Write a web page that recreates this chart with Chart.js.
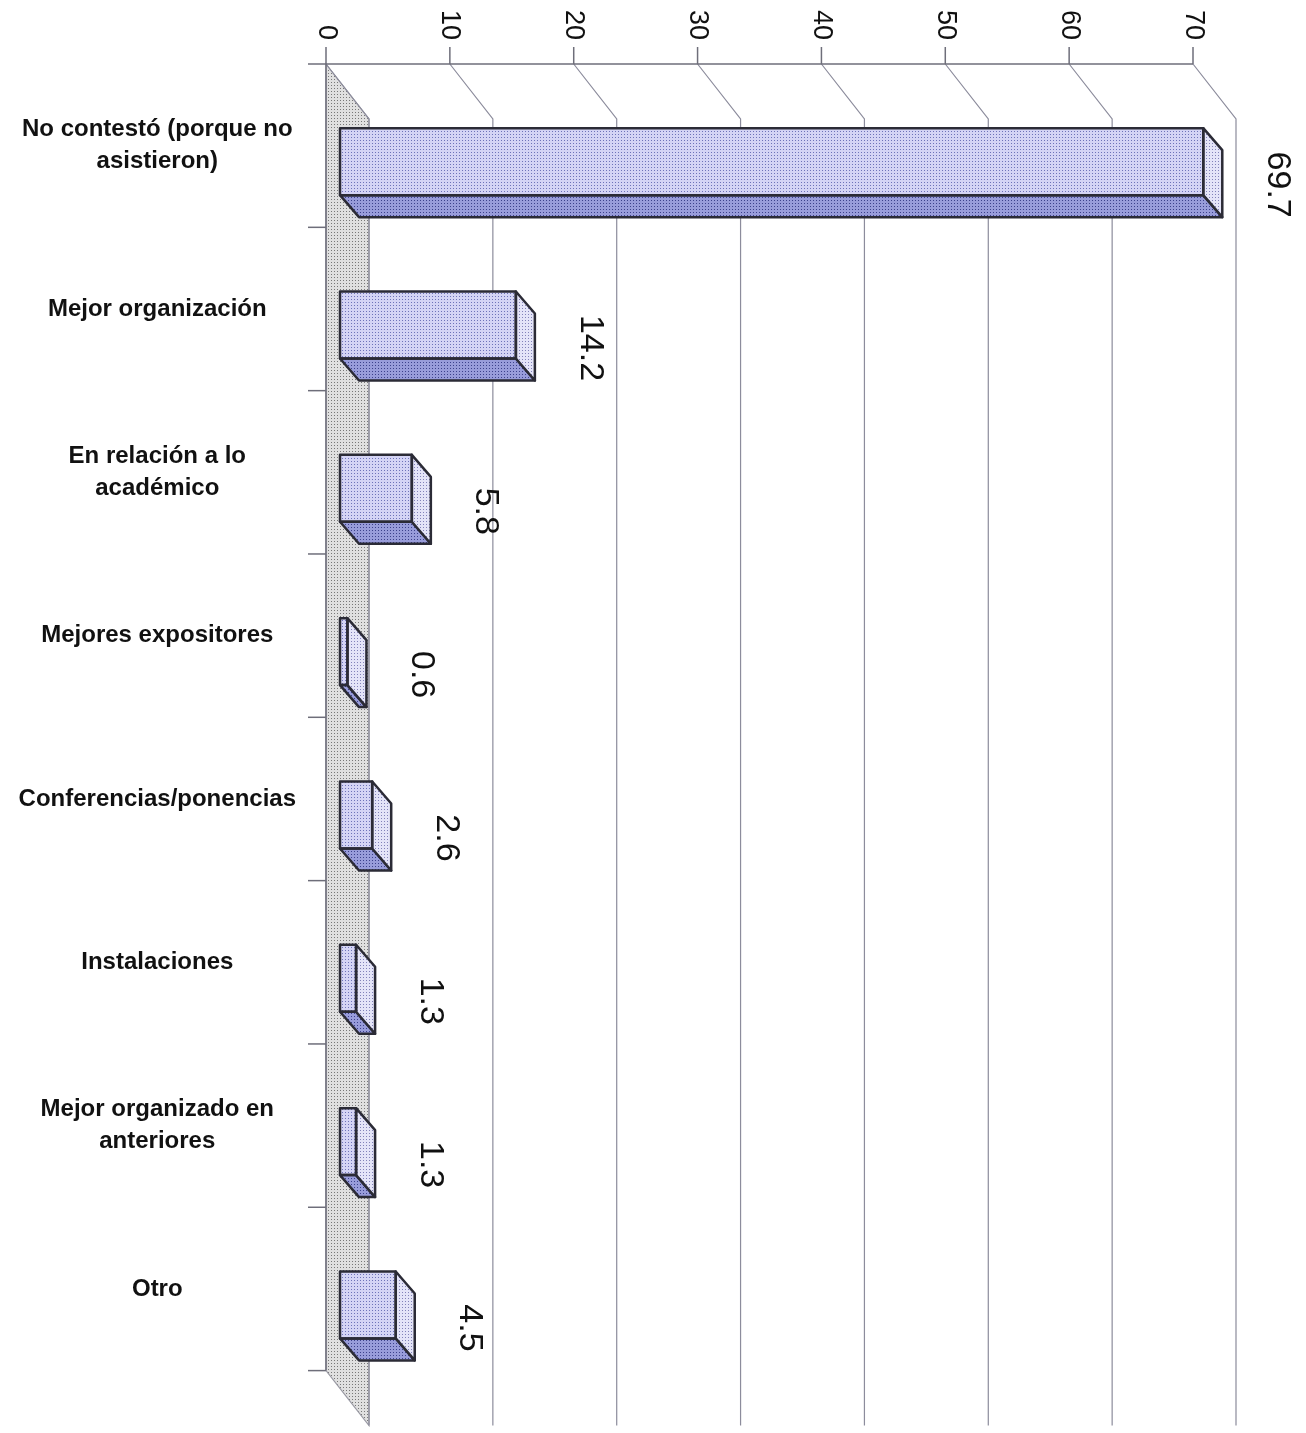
<!DOCTYPE html>
<html>
<head>
<meta charset="utf-8">
<script src="https://cdn.jsdelivr.net/npm/chart.js@4/dist/chart.umd.min.js"></script>
<style>
html,body{margin:0;padding:0;background:#fff;}
canvas{display:block;}
</style>
</head>
<body>
<canvas id="c" width="1306" height="1433"></canvas>
<script>
// ---- data ----
const categories = [
  ["No contestó (porque no", "asistieron)"],
  "Mejor organización",
  ["En relación a lo", "académico"],
  "Mejores expositores",
  "Conferencias/ponencias",
  "Instalaciones",
  ["Mejor organizado en", "anteriores"],
  "Otro"
];
const values = [69.7, 14.2, 5.8, 0.6, 2.6, 1.3, 1.3, 4.5];
const valueLabels = ["69.7", "14.2", "5.8", "0.6", "2.6", "1.3", "1.3", "4.5"];
const xTickValues = [0, 10, 20, 30, 40, 50, 60, 70];
const xTickLabels = ["0", "10", "20", "30", "40", "50", "60", "70"];

// ---- styling ----
const canvas = document.getElementById('c');
const ctx0 = canvas.getContext('2d');
function makePattern(base, dot) {
  const t = document.createElement('canvas');
  t.width = 3; t.height = 3;
  const g = t.getContext('2d');
  g.fillStyle = base; g.fillRect(0, 0, 3, 3);
  g.fillStyle = dot; g.fillRect(1, 1, 1, 1);
  return ctx0.createPattern(t, 'repeat');
}
const frontFill = makePattern('rgb(212,212,245)', 'rgb(110,115,185)');
const bottomFill = makePattern('rgb(152,156,218)', 'rgb(60,65,140)');
const sideFill = makePattern('rgb(228,228,248)', 'rgb(130,130,185)');
const wallFill = makePattern('rgb(224,224,224)', 'rgb(120,120,120)');
const edgeColor = '#2b2b36';
const gridColor = '#8c8c9c';

const WALL_DX = 43, WALL_DY = 55;   // chart depth
const BAR_OX = 14, BAR_OY = 16;     // bar front plane offset
const BAR_DX = 19, BAR_DY = 22;     // bar depth

const threeD = {
  id: 'threeD',
  beforeDatasetsDraw(chart) {
    const ctx = chart.ctx;
    const xs = chart.scales.x;
    const a = chart.chartArea;
    ctx.save();
    // floor / wall
    ctx.beginPath();
    ctx.moveTo(a.left, a.top);
    ctx.lineTo(a.left + WALL_DX, a.top + WALL_DY);
    ctx.lineTo(a.left + WALL_DX, a.bottom + WALL_DY);
    ctx.lineTo(a.left, a.bottom);
    ctx.closePath();
    ctx.fillStyle = wallFill;
    ctx.fill();
    ctx.strokeStyle = '#9a9aa4';
    ctx.lineWidth = 1.2;
    ctx.stroke();
    // gridlines: diagonal on ceiling + vertical on back plane
    ctx.strokeStyle = gridColor;
    ctx.lineWidth = 1.2;
    xTickValues.forEach(v => {
      const fx = xs.getPixelForValue(v);
      ctx.beginPath();
      ctx.moveTo(fx, a.top);
      ctx.lineTo(fx + WALL_DX, a.top + WALL_DY);
      ctx.lineTo(fx + WALL_DX, a.bottom + WALL_DY);
      ctx.stroke();
    });
    // top axis line with tick marks
    ctx.strokeStyle = '#6e6e7a';
    ctx.lineWidth = 1.5;
    ctx.beginPath();
    ctx.moveTo(a.left - 18, a.top);
    ctx.lineTo(xs.getPixelForValue(xTickValues[xTickValues.length - 1]), a.top);
    ctx.stroke();
    xTickValues.forEach(v => {
      const fx = xs.getPixelForValue(v);
      ctx.beginPath();
      ctx.moveTo(fx, a.top);
      ctx.lineTo(fx, a.top - 17);
      ctx.stroke();
    });
    // category axis line + boundary ticks
    ctx.beginPath();
    ctx.moveTo(a.left, a.top);
    ctx.lineTo(a.left, a.bottom);
    ctx.stroke();
    const n = categories.length;
    for (let k = 1; k <= n; k++) {
      const y = a.top + (a.bottom - a.top) * k / n;
      ctx.beginPath();
      ctx.moveTo(a.left - 18, y);
      ctx.lineTo(a.left, y);
      ctx.stroke();
    }
    // tick labels, rotated clockwise
    ctx.fillStyle = '#111';
    ctx.font = '27px "Liberation Sans", Arial, sans-serif';
    ctx.textAlign = 'right';
    ctx.textBaseline = 'middle';
    xTickValues.forEach((v, i) => {
      const fx = xs.getPixelForValue(v);
      ctx.save();
      ctx.translate(fx, a.top - 24);
      ctx.rotate(Math.PI / 2);
      ctx.fillText(xTickLabels[i], 0, 0);
      ctx.restore();
    });
    ctx.restore();
    // shift bar front plane
    ctx.save();
    ctx.translate(BAR_OX, BAR_OY);
  },
  afterDatasetsDraw(chart) {
    const ctx = chart.ctx;
    const meta = chart.getDatasetMeta(0);
    meta.data.forEach(el => {
      const p = el.getProps(['x', 'y', 'base', 'height'], true);
      const l = p.base, r = p.x, t = p.y - p.height / 2, b = p.y + p.height / 2;
      ctx.lineJoin = 'round';
      ctx.lineWidth = 2.5;
      ctx.strokeStyle = edgeColor;
      // bottom face
      ctx.beginPath();
      ctx.moveTo(l, b);
      ctx.lineTo(r, b);
      ctx.lineTo(r + BAR_DX, b + BAR_DY);
      ctx.lineTo(l + BAR_DX, b + BAR_DY);
      ctx.closePath();
      ctx.fillStyle = bottomFill;
      ctx.fill();
      ctx.stroke();
      // right face
      ctx.beginPath();
      ctx.moveTo(r, t);
      ctx.lineTo(r + BAR_DX, t + BAR_DY);
      ctx.lineTo(r + BAR_DX, b + BAR_DY);
      ctx.lineTo(r, b);
      ctx.closePath();
      ctx.fillStyle = sideFill;
      ctx.fill();
      ctx.stroke();
      // front outline
      ctx.strokeRect(l, t, r - l, b - t);
    });
    ctx.restore();
    // value labels rotated clockwise
    ctx.save();
    ctx.fillStyle = '#111';
    ctx.font = '34px "Liberation Sans", Arial, sans-serif';
    ctx.textAlign = 'center';
    ctx.textBaseline = 'middle';
    meta.data.forEach((el, i) => {
      const p = el.getProps(['x', 'y'], true);
      ctx.save();
      ctx.translate(p.x + BAR_OX + 74, p.y + BAR_OY + 23);
      ctx.rotate(Math.PI / 2);
      ctx.fillText(valueLabels[i], 0, 0);
      ctx.restore();
    });
    ctx.restore();
  }
};

new Chart(canvas, {
  type: 'bar',
  data: {
    labels: categories,
    datasets: [{
      data: values,
      backgroundColor: frontFill,
      borderColor: edgeColor,
      borderWidth: 0,
      categoryPercentage: 1,
      barPercentage: 0.41,
      clip: false
    }]
  },
  options: {
    indexAxis: 'y',
    responsive: false,
    devicePixelRatio: 1,
    animation: false,
    layout: { padding: { top: 64, bottom: 52, right: 113, left: 0 } },
    plugins: { legend: { display: false }, tooltip: { enabled: false } },
    scales: {
      x: {
        display: false,
        min: 0,
        max: 70,
        ticks: { stepSize: 10 }
      },
      y: {
        display: true,
        grid: { display: false, drawTicks: false },
        border: { display: false },
        afterFit(scale) { scale.width = 326; },
        ticks: {
          padding: 30,
          crossAlign: 'center',
          color: '#111',
          font: { family: '"Liberation Sans", Arial, sans-serif', size: 24, weight: 'bold', lineHeight: 1.35 }
        }
      }
    }
  },
  plugins: [threeD]
});
</script>
</body>
</html>
